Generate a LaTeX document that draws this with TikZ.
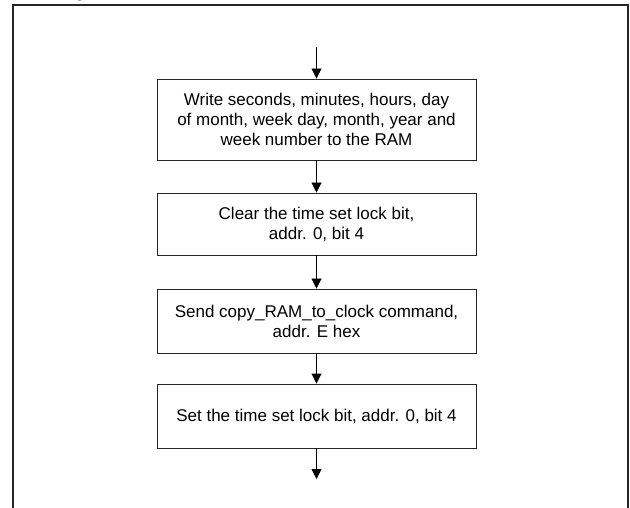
\documentclass[tikz,border=0pt]{standalone}
\usepackage{fontspec}
\setmainfont{Liberation Sans}
\usetikzlibrary{arrows.meta}
\begin{document}
\begin{tikzpicture}[x=1pt,y=-1pt,
  stepbox/.style={draw=black!85,line width=0.9pt,minimum width=319pt,inner sep=0pt,align=center,
    font=\fontsize{17}{20}\selectfont},
  flow/.style={line width=0.9pt,-{Triangle[width=10pt,length=10pt]}},
  frame/.style={line width=1.3pt,draw=black!85}]
\useasboundingbox (0,0) rectangle (630,508);
\draw[frame] (13,508) -- (13,5) -- (628,5) -- (628,508);
\node[font=\bfseries\fontsize{16}{16}\selectfont,anchor=base] (frag) at (80,-2) {g};
\coordinate (start) at (316.5,47);
\coordinate (finish) at (316.5,479);
\node[stepbox,minimum height=81pt] (b1) at (316.5,119.5) {Write seconds, minutes, hours, day\\of month, week day, month, year and\\week number to the RAM};
\node[stepbox,minimum height=62pt] (b2) at (316.5,224) {Clear the time set lock bit,\\addr. 0, bit 4};
\node[stepbox,minimum height=64pt] (b3) at (316.5,321) {Send copy\_RAM\_to\_clock command,\\addr. E hex};
\node[stepbox,minimum height=64pt] (b4) at (316.5,416) {Set the time set lock bit, addr. 0, bit 4};
\draw[flow] (start) -- (b1.north);
\draw[flow] (b1.south) -- (b2.north);
\draw[flow] (b2.south) -- (b3.north);
\draw[flow] (b3.south) -- (b4.north);
\draw[flow] (b4.south) -- (finish);
\end{tikzpicture}
\end{document}
